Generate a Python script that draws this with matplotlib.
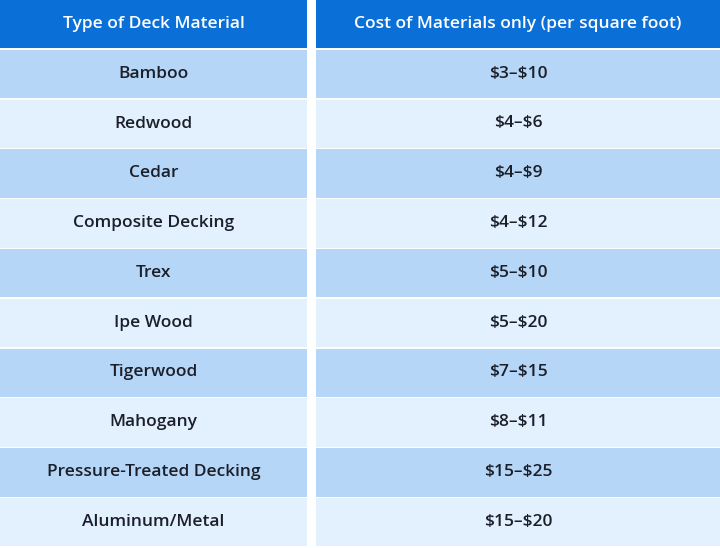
import matplotlib
matplotlib.use("Agg")
import matplotlib.pyplot as plt
from matplotlib.patches import Rectangle

headers = ["Type of Deck Material", "Cost of Materials only (per square foot)"]
materials = ["Bamboo", "Redwood", "Cedar", "Composite Decking", "Trex", "Ipe Wood",
             "Tigerwood", "Mahogany", "Pressure-Treated Decking", "Aluminum/Metal"]
costs = ["$3–$10", "$4–$6", "$4–$9", "$4–$12", "$5–$10", "$5–$20",
         "$7–$15", "$8–$11", "$15–$25", "$15–$20"]

W, H = 720, 548
fig = plt.figure(figsize=(W / 100, H / 100), dpi=100)
ax = fig.add_axes([0, 0, 1, 1])
ax.set_xlim(0, W)
ax.set_ylim(H, 0)
ax.axis("off")

cols = [(0, 307), (316, 720)]
row_h = 49.8
head_c = "#0b6fd8"
row_cols = ["#b5d6f6", "#e3f0fd"]
txt_c = "#1b1f2a"
font = "Open Sans"

for (x0, x1), h in zip(cols, headers):
    ax.add_patch(Rectangle((x0, 0), x1 - x0, row_h - 1.5, color=head_c, lw=0))
    ax.text((x0 + x1) / 2, row_h / 2 - 1, h, ha="center", va="center",
            color="white", fontsize=12.5, fontweight="semibold", family=font,
            parse_math=False)

for i, (m, c) in enumerate(zip(materials, costs)):
    y = row_h * (i + 1)
    for (x0, x1), t in zip(cols, [m, c]):
        ax.add_patch(Rectangle((x0, y), x1 - x0, row_h - 1.5,
                               color=row_cols[i % 2], lw=0))
        ax.text((x0 + x1) / 2, y + row_h / 2 - 1, t, ha="center", va="center",
                color=txt_c, fontsize=12.5, fontweight="semibold", family=font,
                parse_math=False)

fig.savefig("out.png", dpi=100, facecolor="white")
